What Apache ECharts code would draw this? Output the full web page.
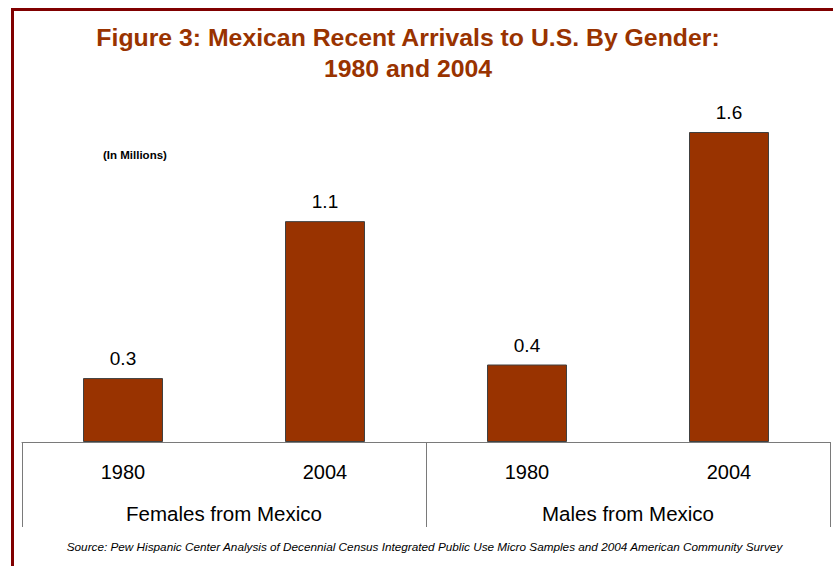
<!DOCTYPE html>
<html>
<head>
<meta charset="utf-8">
<script src="https://cdn.jsdelivr.net/npm/echarts@6/dist/echarts.min.js"></script>
<style>
html,body{margin:0;padding:0;background:#fff;}
#c{width:833px;height:566px;}
</style>
</head>
<body>
<div id="c"></div>
<script>
const categories = ['1980', '2004', '1980', '2004'];
const groups = ['Females from Mexico', 'Males from Mexico'];
const values = [0.33, 1.14, 0.40, 1.6];
const titleLines = ['Figure 3: Mexican Recent Arrivals to U.S. By Gender:', '1980 and 2004'];
const unitNote = '(In Millions)';
const sourceNote = 'Source: Pew Hispanic Center Analysis of Decennial Census Integrated Public Use Micro Samples and 2004 American Community Survey';

const chart = echarts.init(document.getElementById('c'), null, {renderer: 'svg'});
const FONT = '"Liberation Sans", Arial, sans-serif';
chart.setOption({
  backgroundColor: '#ffffff',
  animation: false,
  grid: {left: 22, right: 3, top: 54.5, bottom: 124, containLabel: false},
  xAxis: [
    {
      type: 'category', data: categories, position: 'bottom',
      axisLine: {show: false}, axisTick: {show: false},
      axisLabel: {margin: 20, fontSize: 20, color: '#000', fontFamily: FONT}
    },
    {
      type: 'category', data: groups, position: 'bottom',
      axisLine: {show: true, lineStyle: {color: '#7a7a7a', width: 1}},
      axisTick: {show: true, length: 85, lineStyle: {color: '#7a7a7a', width: 1}},
      axisLabel: {margin: 61, fontSize: 20.5, color: '#000', fontFamily: FONT}
    }
  ],
  yAxis: {type: 'value', min: 0, max: 2, show: false, splitLine: {show: false}},
  series: [{
    type: 'bar', xAxisIndex: 0, data: values, barWidth: 80,
    itemStyle: {color: '#993300', borderColor: '#404040', borderWidth: 1},
    label: {
      show: true, position: 'top', distance: 10, fontSize: 19, color: '#000', fontFamily: FONT,
      formatter: p => p.value.toFixed(1)
    }
  }],
  graphic: [
    {type: 'line', shape: {x1: 11, y1: 9.5, x2: 833, y2: 9.5}, style: {stroke: '#800000', lineWidth: 3}},
    {type: 'line', shape: {x1: 12.5, y1: 8, x2: 12.5, y2: 566}, style: {stroke: '#800000', lineWidth: 3}},
    {type: 'text', x: 408, y: 37, style: {text: titleLines[0], fill: '#993300', font: 'bold 24.8px ' + FONT, textAlign: 'center', textVerticalAlign: 'middle'}},
    {type: 'text', x: 408, y: 68, style: {text: titleLines[1], fill: '#993300', font: 'bold 24.8px ' + FONT, textAlign: 'center', textVerticalAlign: 'middle'}},
    {type: 'text', x: 103, y: 155, style: {text: unitNote, fill: '#000', font: 'bold 11.5px ' + FONT, textAlign: 'left', textVerticalAlign: 'middle'}},
    {type: 'text', x: 424.5, y: 546, style: {text: sourceNote, fill: '#000', font: 'italic 11.75px ' + FONT, textAlign: 'center', textVerticalAlign: 'middle'}}
  ]
});
</script>
</body>
</html>
